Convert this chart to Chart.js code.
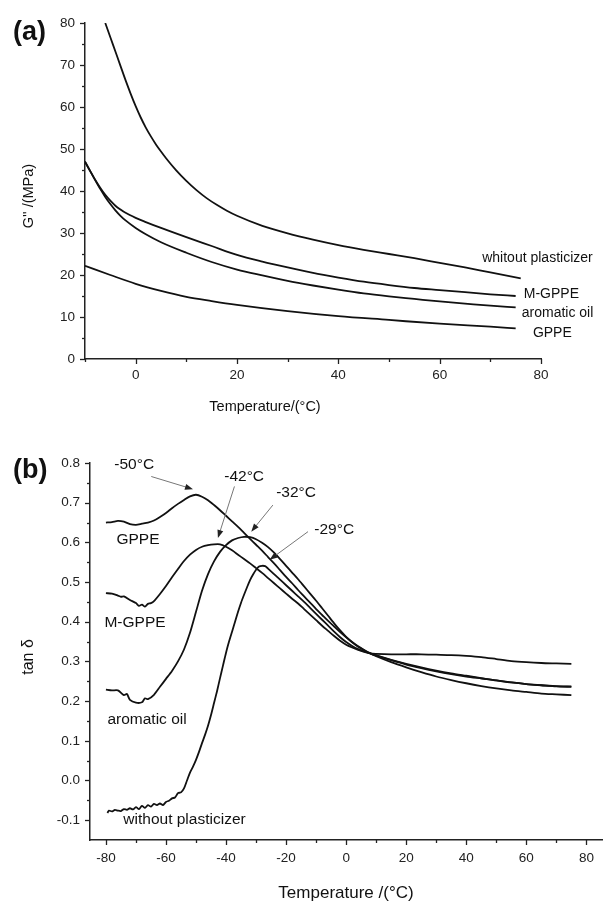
<!DOCTYPE html>
<html>
<head>
<meta charset="utf-8">
<script src="https://cdn.jsdelivr.net/npm/chart.js@4.4.1/dist/chart.umd.min.js"></script>
<style>
  html, body { margin: 0; padding: 0; background: #fff; }
  #wrap { position: relative; width: 616px; height: 902px; }
  canvas { position: absolute; left: 0; }
  #chartA { top: 0; }
  #chartB { top: 430px; }
</style>
</head>
<body>
<div id="wrap">
  <canvas id="chartA" width="616" height="430"></canvas>
  <canvas id="chartB" width="616" height="472"></canvas>
</div>
<script>
// ---- (a) loss modulus G'' vs temperature ----
const tempWithoutA = [-6, -5, -4, -3, -2, -1, 0, 1, 2, 3, 4, 5, 6, 8, 10, 12, 14, 16, 18, 20, 25, 30, 35, 40, 45, 50, 55, 60, 65, 70, 76];
const gWithoutA    = [80, 76.6, 73.2, 69.8, 66.4, 63.2, 60.2, 57.5, 55.1, 53, 51.1, 49.4, 47.8, 44.9, 42.4, 40.2, 38.3, 36.7, 35.3, 34.1, 31.7, 29.9, 28.4, 27.1, 26, 25, 24, 22.9, 21.8, 20.6, 19.2];

const tempMgppeA = [-10, -9, -8, -7, -6, -5, -4, -3, -2, 0, 2, 5, 10, 15, 20, 25, 30, 35, 40, 45, 50, 55, 60, 65, 70, 75];
const gMgppeA    = [47, 44.8, 42.7, 40.8, 39.1, 37.7, 36.5, 35.6, 34.8, 33.6, 32.6, 31.2, 29, 26.9, 24.8, 23.2, 21.8, 20.5, 19.4, 18.4, 17.6, 16.9, 16.4, 15.9, 15.4, 15.0];

const tempOilA = [-10, -9, -8, -7, -6, -5, -4, -3, -2, 0, 2, 5, 10, 15, 20, 25, 30, 35, 40, 45, 50, 55, 60, 65, 70, 75];
const gOilA    = [47, 44.8, 42.6, 40.5, 38.6, 36.9, 35.4, 34.1, 33, 31.2, 29.7, 27.8, 25.3, 23.1, 21.3, 19.9, 18.6, 17.5, 16.5, 15.6, 14.9, 14.3, 13.7, 13.2, 12.7, 12.3];

const tempGppeA = [-10, -5, 0, 5, 10, 15, 20, 30, 40, 50, 60, 70, 75];
const gGppeA    = [22.2, 20, 17.9, 16.2, 14.8, 13.8, 12.9, 11.4, 10.2, 9.3, 8.4, 7.7, 7.3];

const xTicksA = [-10, 0, 10, 20, 30, 40, 50, 60, 70, 80];
const yTicksA = [0, 5, 10, 15, 20, 25, 30, 35, 40, 45, 50, 55, 60, 65, 70, 75, 80];

// ---- (b) tan delta vs temperature ----
const tempGppeB = [-80, -78, -76, -74, -72, -70, -68, -66, -64, -62, -60, -58, -56, -54, -52, -50, -48, -46, -44, -42, -40, -38, -36, -34, -32, -30, -28, -26, -24, -22, -20, -18, -16, -14, -12, -10, -8, -6, -4, -2, 0, 2, 4, 6, 8, 10, 15, 20, 25, 30, 35, 40, 45, 50, 55, 60, 65, 70, 75];
const tanGppeB  = [0.650, 0.651, 0.654, 0.652, 0.646, 0.644, 0.647, 0.650, 0.655, 0.664, 0.674, 0.686, 0.697, 0.707, 0.716, 0.720, 0.715, 0.706, 0.694, 0.681, 0.667, 0.653, 0.639, 0.624, 0.609, 0.594, 0.579, 0.563, 0.547, 0.530, 0.513, 0.497, 0.480, 0.464, 0.448, 0.432, 0.417, 0.402, 0.388, 0.374, 0.361, 0.349, 0.338, 0.329, 0.321, 0.315, 0.303, 0.292, 0.283, 0.275, 0.268, 0.262, 0.257, 0.252, 0.247, 0.243, 0.240, 0.237, 0.236];

const tempMgppeB = [-80, -78, -76, -75, -74, -72, -70, -69, -68, -67, -66, -65, -64, -62, -60, -58, -56, -54, -52, -50, -48, -46, -44, -42, -40, -38, -36, -34, -32, -30, -28, -26, -24, -22, -20, -18, -16, -14, -12, -10, -8, -6, -4, -2, 0, 2, 4, 6, 8, 10, 15, 20, 25, 30, 35, 40, 45, 50, 55, 60, 65, 70, 75];
const tanMgppeB  = [0.472, 0.471, 0.466, 0.463, 0.464, 0.455, 0.447, 0.440, 0.443, 0.438, 0.445, 0.447, 0.452, 0.470, 0.490, 0.512, 0.533, 0.553, 0.569, 0.581, 0.589, 0.593, 0.595, 0.595, 0.589, 0.580, 0.569, 0.558, 0.547, 0.535, 0.523, 0.510, 0.497, 0.484, 0.471, 0.458, 0.446, 0.432, 0.418, 0.404, 0.390, 0.377, 0.364, 0.352, 0.342, 0.335, 0.329, 0.324, 0.320, 0.319, 0.318, 0.318, 0.318, 0.317, 0.316, 0.314, 0.311, 0.306, 0.301, 0.298, 0.296, 0.295, 0.294];

const tempOilB = [-80, -78, -76, -74, -73, -72, -70, -68, -67, -66, -64, -62, -60, -58, -56, -54, -52, -50, -48, -46, -44, -42, -40, -38, -36, -34, -32, -30, -28, -26, -24, -22, -20, -18, -16, -14, -12, -10, -8, -6, -4, -2, 0, 2, 4, 6, 8, 10, 15, 20, 25, 30, 35, 40, 45, 50, 55, 60, 65, 70, 75];
const tanOilB  = [0.229, 0.227, 0.227, 0.215, 0.218, 0.203, 0.196, 0.197, 0.207, 0.205, 0.216, 0.236, 0.256, 0.276, 0.300, 0.330, 0.372, 0.425, 0.478, 0.520, 0.552, 0.576, 0.593, 0.605, 0.611, 0.614, 0.613, 0.608, 0.599, 0.588, 0.574, 0.558, 0.541, 0.524, 0.507, 0.489, 0.471, 0.453, 0.434, 0.415, 0.396, 0.378, 0.362, 0.348, 0.337, 0.328, 0.320, 0.313, 0.298, 0.285, 0.273, 0.262, 0.253, 0.245, 0.238, 0.232, 0.227, 0.223, 0.219, 0.217, 0.215];

const tempWithoutB = [-79.5, -79, -78, -77, -76, -75, -74, -73, -72, -71, -70, -69, -68, -67, -66, -65, -64, -63, -62, -61, -60, -59, -58, -57, -56, -55, -54, -53, -52, -51, -50, -49, -48, -47, -46, -45, -44, -43, -42, -41, -40, -39, -38, -37, -36, -35, -34, -33, -32, -31, -30, -29, -28, -27, -26, -24, -22, -20, -18, -16, -14, -12, -10, -8, -6, -4, -2, 0, 2, 4, 6, 8, 10, 15, 20, 25, 30, 35, 40, 45, 50, 55, 60, 65, 70, 75];
const tanWithoutB  = [-0.082, -0.076, -0.078, -0.074, -0.076, -0.077, -0.072, -0.074, -0.070, -0.073, -0.067, -0.072, -0.064, -0.069, -0.062, -0.066, -0.059, -0.062, -0.058, -0.062, -0.054, -0.051, -0.045, -0.043, -0.032, -0.030, -0.020, 0.000, 0.020, 0.035, 0.052, 0.072, 0.094, 0.115, 0.138, 0.165, 0.195, 0.225, 0.258, 0.290, 0.322, 0.350, 0.375, 0.400, 0.425, 0.448, 0.468, 0.487, 0.505, 0.519, 0.531, 0.539, 0.541, 0.540, 0.534, 0.520, 0.506, 0.492, 0.478, 0.464, 0.450, 0.435, 0.420, 0.405, 0.390, 0.375, 0.361, 0.349, 0.339, 0.331, 0.325, 0.320, 0.315, 0.304, 0.294, 0.285, 0.277, 0.270, 0.264, 0.258, 0.252, 0.247, 0.243, 0.240, 0.238, 0.237];

const xTicksB = [-80, -70, -60, -50, -40, -30, -20, -10, 0, 10, 20, 30, 40, 50, 60, 70, 80];
const yTicksB = [-0.1, -0.05, 0, 0.05, 0.1, 0.15, 0.2, 0.25, 0.3, 0.35, 0.4, 0.45, 0.5, 0.55, 0.6, 0.65, 0.7, 0.75, 0.8];

const FONT = '"Liberation Sans", Arial, sans-serif';
Chart.defaults.font.family = FONT;
Chart.defaults.color = '#222';

const pts = (xs, ys) => xs.map((x, i) => ({ x: x, y: ys[i] }));

// tick marks (long for labelled, short for minor), labels, arrows and titles
const notesPlugin = {
    id: 'notes',
    afterDraw(chart, args, opts) {
        const ctx = chart.ctx;
        const xs = chart.scales.x, ys = chart.scales.y;
        const area = chart.chartArea;
        ctx.save();
        ctx.strokeStyle = '#222';
        ctx.lineWidth = 1.3;
        xs.ticks.forEach(t => {
            const px = Math.round(xs.getPixelForValue(t.value)) + 0.5;
            const len = t.label !== '' ? 5 : 3;
            ctx.beginPath();
            ctx.moveTo(px, area.bottom);
            ctx.lineTo(px, area.bottom + len);
            ctx.stroke();
        });
        ys.ticks.forEach(t => {
            const py = Math.round(ys.getPixelForValue(t.value)) + 0.5;
            const len = t.label !== '' ? 5 : 3;
            ctx.beginPath();
            ctx.moveTo(area.left, py);
            ctx.lineTo(area.left - len, py);
            ctx.stroke();
        });

        (opts.arrows || []).forEach(a => {
            const x1 = xs.getPixelForValue(a.x1), y1 = ys.getPixelForValue(a.y1);
            const x2 = xs.getPixelForValue(a.x2), y2 = ys.getPixelForValue(a.y2);
            const ang = Math.atan2(y2 - y1, x2 - x1);
            ctx.strokeStyle = '#777';
            ctx.lineWidth = 1;
            ctx.beginPath();
            ctx.moveTo(x1, y1);
            ctx.lineTo(x2 - 5 * Math.cos(ang), y2 - 5 * Math.sin(ang));
            ctx.stroke();
            ctx.fillStyle = '#222';
            ctx.beginPath();
            ctx.moveTo(x2, y2);
            ctx.lineTo(x2 - 8 * Math.cos(ang) + 3 * Math.sin(ang), y2 - 8 * Math.sin(ang) - 3 * Math.cos(ang));
            ctx.lineTo(x2 - 8 * Math.cos(ang) - 3 * Math.sin(ang), y2 - 8 * Math.sin(ang) + 3 * Math.cos(ang));
            ctx.closePath();
            ctx.fill();
        });

        ctx.fillStyle = '#111';
        ctx.textBaseline = 'middle';
        (opts.labels || []).forEach(l => {
            ctx.font = opts.labelFont;
            ctx.textAlign = 'left';
            ctx.fillText(l.text, xs.getPixelForValue(l.x), ys.getPixelForValue(l.y));
        });

        (opts.texts || []).forEach(t => {
            ctx.save();
            ctx.translate(t.x, t.y);
            ctx.rotate(t.rot || 0);
            ctx.font = t.font;
            ctx.textAlign = t.align || 'center';
            ctx.fillText(t.text, 0, 0);
            ctx.restore();
        });
        ctx.restore();
    }
};

function axisOptions(ticksList, labelEvery, fmt, size, pad) {
    return {
        type: 'linear',
        min: ticksList.min,
        max: ticksList.max,
        afterBuildTicks: scale => { scale.ticks = ticksList.values.map(v => ({ value: v })); },
        grid: { display: true, drawOnChartArea: false, drawTicks: false },
        border: { display: true, color: '#222', width: 1.5 },
        ticks: {
            autoSkip: false,
            maxRotation: 0,
            padding: pad,
            color: '#222',
            font: { size: 13.5 },
            callback: v => (Math.abs(Math.round(v * 100)) % labelEvery === 0 ? fmt(v) : '')
        },
        afterFit: scale => {
            if (scale.isHorizontal()) scale.height = size; else scale.width = size;
        }
    };
}

const lineStyle = { borderColor: '#111', borderWidth: 1.8, pointRadius: 0, fill: false };

const chartA = new Chart(document.getElementById('chartA'), {
    type: 'line',
    data: {
        datasets: [
            { label: 'whitout plasticizer', data: pts(tempWithoutA, gWithoutA), ...lineStyle, cubicInterpolationMode: 'monotone' },
            { label: 'M-GPPE', data: pts(tempMgppeA, gMgppeA), ...lineStyle, cubicInterpolationMode: 'monotone' },
            { label: 'aromatic oil', data: pts(tempOilA, gOilA), ...lineStyle, cubicInterpolationMode: 'monotone' },
            { label: 'GPPE', data: pts(tempGppeA, gGppeA), ...lineStyle, cubicInterpolationMode: 'monotone' }
        ]
    },
    options: {
        responsive: false,
        animation: false,
        layout: { padding: { left: 0, top: 23, right: 75, bottom: 0 } },
        scales: {
            x: axisOptions({ min: -10, max: 80, values: xTicksA }, 2000, v => String(v), 71, 8),
            y: axisOptions({ min: 0, max: 80, values: yTicksA }, 1000, v => String(v), 85, 10)
        },
        plugins: {
            legend: { display: false },
            tooltip: { enabled: false },
            notes: {
                labelFont: '14px ' + FONT,
                labels: [
                    { text: 'whitout plasticizer', x: 68.4, y: 24.0 },
                    { text: 'M-GPPE', x: 76.6, y: 15.5 },
                    { text: 'aromatic oil', x: 76.2, y: 11.0 },
                    { text: 'GPPE', x: 78.4, y: 6.2 }
                ],
                texts: [
                    { text: '(a)', x: 13, y: 33, font: 'bold 27px ' + FONT, align: 'left' },
                    { text: 'G\'\' /(MPa)', x: 29, y: 196, rot: -Math.PI / 2, font: '14.5px ' + FONT },
                    { text: 'Temperature/(°C)', x: 265, y: 407, font: '14.5px ' + FONT }
                ]
            }
        }
    },
    plugins: [notesPlugin]
});

const chartB = new Chart(document.getElementById('chartB'), {
    type: 'line',
    data: {
        datasets: [
            { label: 'GPPE', data: pts(tempGppeB, tanGppeB), ...lineStyle, tension: 0.25 },
            { label: 'M-GPPE', data: pts(tempMgppeB, tanMgppeB), ...lineStyle, tension: 0.25 },
            { label: 'aromatic oil', data: pts(tempOilB, tanOilB), ...lineStyle, tension: 0.25 },
            { label: 'without plasticizer', data: pts(tempWithoutB, tanWithoutB), ...lineStyle, tension: 0.25 }
        ]
    },
    options: {
        responsive: false,
        animation: false,
        layout: { padding: { left: 0, top: 33, right: 14, bottom: 0 } },
        scales: {
            x: axisOptions({ min: -85.3, max: 85.2, values: xTicksB }, 2000, v => String(v), 62, 10),
            y: axisOptions({ min: -0.15, max: 0.8, values: yTicksB }, 10, v => v.toFixed(1), 90, 10)
        },
        plugins: {
            legend: { display: false },
            tooltip: { enabled: false },
            notes: {
                labelFont: '15.5px ' + FONT,
                labels: [
                    { text: 'GPPE', x: -76.5, y: 0.606 },
                    { text: 'M-GPPE', x: -80.5, y: 0.397 },
                    { text: 'aromatic oil', x: -79.5, y: 0.153 },
                    { text: 'without plasticizer', x: -74.2, y: -0.099 },
                    { text: '-50°C', x: -77.2, y: 0.795 },
                    { text: '-42°C', x: -40.6, y: 0.766 },
                    { text: '-32°C', x: -23.3, y: 0.725 },
                    { text: '-29°C', x: -10.6, y: 0.632 }
                ],
                arrows: [
                    { x1: -64.9, y1: 0.766, x2: -51, y2: 0.734 },
                    { x1: -37.2, y1: 0.741, x2: -42.7, y2: 0.611 },
                    { x1: -24.4, y1: 0.694, x2: -31.6, y2: 0.627 },
                    { x1: -12.7, y1: 0.627, x2: -25.5, y2: 0.556 }
                ],
                texts: [
                    { text: '(b)', x: 13, y: 41, font: 'bold 27px ' + FONT, align: 'left' },
                    { text: 'tan δ', x: 29, y: 227, rot: -Math.PI / 2, font: '16px ' + FONT },
                    { text: 'Temperature /(°C)', x: 346, y: 463, font: '17px ' + FONT }
                ]
            }
        }
    },
    plugins: [notesPlugin]
});
</script>
</body>
</html>
